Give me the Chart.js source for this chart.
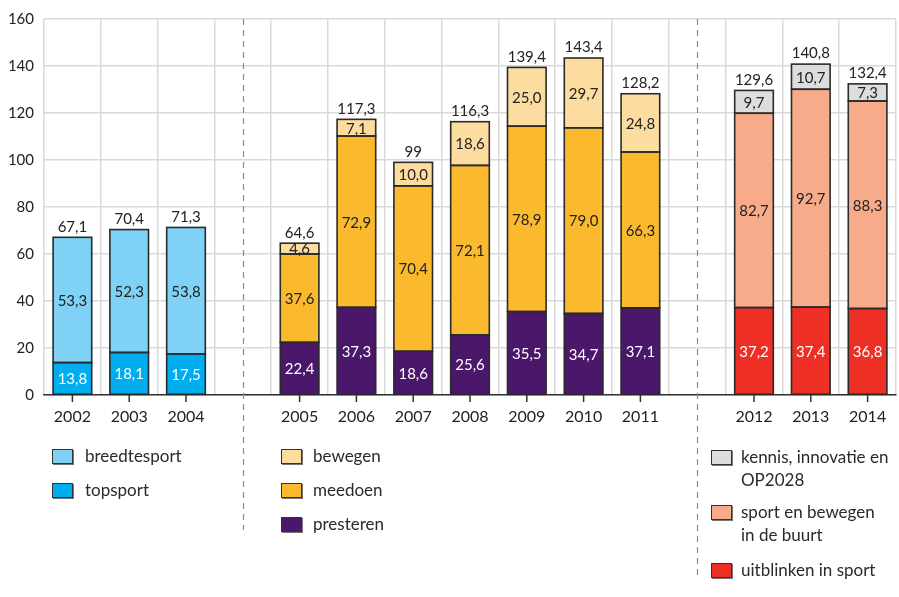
<!DOCTYPE html>
<html>
<head>
<meta charset="utf-8">
<script src="https://cdn.jsdelivr.net/npm/chart.js@4/dist/chart.umd.min.js"></script>
<style>
  html, body { margin: 0; padding: 0; background: #fff; }
  #wrap { position: relative; width: 899px; height: 597px; }
  canvas { position: absolute; left: 0; top: 0; }
  .lg { position: absolute; font-family: Lato, "Open Sans", sans-serif; font-size: 17px; color: #2a2a2a; line-height: 23px; white-space: nowrap; }
  .sw { position: absolute; width: 19px; height: 13px; border: 1px solid #333; box-sizing: content-box; box-shadow: 1px 1px 0 #777; }
</style>
</head>
<body>
<div id="wrap">
  <canvas id="c" width="899" height="597"></canvas>
</div>
<script>
// ---- data ----
const categories = ['2002','2003','2004','','2005','2006','2007','2008','2009','2010','2011','','2012','2013','2014'];
const topsport     = [13.8, 18.1, 17.5, null, null, null, null, null, null, null, null, null, null, null, null];
const breedtesport = [53.3, 52.3, 53.8, null, null, null, null, null, null, null, null, null, null, null, null];
const presteren    = [null, null, null, null, 22.4, 37.3, 18.6, 25.6, 35.5, 34.7, 37.1, null, null, null, null];
const meedoen      = [null, null, null, null, 37.6, 72.9, 70.4, 72.1, 78.9, 79.0, 66.3, null, null, null, null];
const bewegen      = [null, null, null, null, 4.6, 7.1, 10.0, 18.6, 25.0, 29.7, 24.8, null, null, null, null];
const uitblinken   = [null, null, null, null, null, null, null, null, null, null, null, null, 37.2, 37.4, 36.8];
const buurt        = [null, null, null, null, null, null, null, null, null, null, null, null, 82.7, 92.7, 88.3];
const kennis       = [null, null, null, null, null, null, null, null, null, null, null, null, 9.7, 10.7, 7.3];
const totalLabels  = ['67,1','70,4','71,3','','64,6','117,3','99','116,3','139,4','143,4','128,2','','129,6','140,8','132,4'];
const yTicks = [0, 20, 40, 60, 80, 100, 120, 140, 160];

const FONT = 'Lato, "Open Sans", sans-serif';
const C = {
  topsport: '#00aeef', breedtesport: '#7fd1f5',
  presteren: '#4a176b', meedoen: '#fbba2e', bewegen: '#fddc9f',
  uitblinken: '#ee2f25', buurt: '#f8ab8b', kennis: '#dcdddf'
};

function ds(label, data, color, light) {
  return { label, data, backgroundColor: color, borderWidth: 0, lightText: light, stack: 's' };
}

const labelPlugin = {
  id: 'labels',
  afterDatasetsDraw(chart) {
    const ctx = chart.ctx;
    ctx.save();
    ctx.strokeStyle = '#2a2a2a';
    ctx.lineWidth = 1.6;
    chart.data.datasets.forEach((d, di) => {
      chart.getDatasetMeta(di).data.forEach((el, i) => {
        const v = d.data[i];
        if (v === null || v === undefined) return;
        ctx.strokeRect(el.x - el.width / 2, el.y, el.width, el.base - el.y);
      });
    });
    ctx.font = '15px ' + FONT;
    ctx.textAlign = 'center';
    ctx.textBaseline = 'middle';
    const tops = {};
    chart.data.datasets.forEach((d, di) => {
      const meta = chart.getDatasetMeta(di);
      meta.data.forEach((el, i) => {
        const v = d.data[i];
        if (v === null || v === undefined) return;
        ctx.fillStyle = d.lightText ? '#fff' : '#222';
        ctx.fillText(v.toFixed(1).replace('.', ','), el.x, (el.y + el.base) / 2 + 1);
        if (!tops[i] || el.y < tops[i].y) tops[i] = el;
      });
    });
    ctx.fillStyle = '#222';
    ctx.textBaseline = 'bottom';
    Object.keys(tops).forEach(i => {
      const el = tops[i];
      ctx.fillText(totalLabels[i], el.x, el.y - 3);
    });
    ctx.restore();
  }
};

const decoPlugin = {
  id: 'deco',
  afterDraw(chart) {
    const ctx = chart.ctx;
    const xs = chart.scales.x;
    const area = chart.chartArea;
    ctx.save();
    ctx.strokeStyle = '#333';
    ctx.lineWidth = 1.5;
    categories.forEach((c, i) => {
      if (!c) return;
      const x = xs.getPixelForValue(i);
      ctx.beginPath();
      ctx.moveTo(x, area.bottom);
      ctx.lineTo(x, area.bottom + 7);
      ctx.stroke();
    });
    ctx.strokeStyle = '#8a8a8a';
    ctx.lineWidth = 1.2;
    ctx.setLineDash([6, 5]);
    [[3, 530], [11, 578]].forEach(([idx, yEnd]) => {
      const x = Math.round(xs.getPixelForValue(idx)) + 0.5;
      ctx.beginPath();
      ctx.moveTo(x, area.top);
      ctx.lineTo(x, yEnd);
      ctx.stroke();
    });
    ctx.restore();
  }
};

new Chart(document.getElementById('c'), {
  type: 'bar',
  data: {
    labels: categories,
    datasets: [
      ds('topsport', topsport, C.topsport, true),
      ds('breedtesport', breedtesport, C.breedtesport, false),
      ds('presteren', presteren, C.presteren, true),
      ds('meedoen', meedoen, C.meedoen, false),
      ds('bewegen', bewegen, C.bewegen, false),
      ds('uitblinken in sport', uitblinken, C.uitblinken, true),
      ds('sport en bewegen in de buurt', buurt, C.buurt, false),
      ds('kennis, innovatie en OP2028', kennis, C.kennis, false)
    ]
  },
  options: {
    responsive: false,
    animation: false,
    devicePixelRatio: 1,
    categoryPercentage: 1,
    barPercentage: 0.68,
    layout: { padding: { top: 16, right: 3, left: 0, bottom: 0 } },
    plugins: { legend: { display: false }, tooltip: { enabled: false } },
    scales: {
      x: {
        stacked: true,
        grid: { offset: true, color: '#d9d9d9', lineWidth: 1.5, drawTicks: false },
        border: { display: true, color: '#333', width: 1.5 },
        ticks: { color: '#222', font: { family: FONT, size: 16 }, padding: 12, maxRotation: 0, autoSkip: false },
        afterFit(s) { s.height = 597 - 395; }
      },
      y: {
        stacked: true,
        min: 0, max: 160,
        afterBuildTicks(s) { s.ticks = yTicks.map(v => ({ value: v })); },
        grid: { color: '#d9d9d9', lineWidth: 1.5, drawTicks: false },
        border: { display: false },
        ticks: { color: '#222', font: { family: FONT, size: 15 }, padding: 10 },
        afterFit(s) { s.width = 44; }
      }
    }
  },
  plugins: [labelPlugin, decoPlugin]
});

// ---- HTML legend ----
const legendItems = [
  { x: 52, tx: 85, y: 456, color: C.breedtesport, text: 'breedtesport' },
  { x: 52, tx: 85, y: 490, color: C.topsport, text: 'topsport' },
  { x: 281, tx: 313, y: 456, color: C.bewegen, text: 'bewegen' },
  { x: 281, tx: 313, y: 490, color: C.meedoen, text: 'meedoen' },
  { x: 281, tx: 313, y: 524, color: C.presteren, text: 'presteren' },
  { x: 711, tx: 741, y: 457, color: C.kennis, text: 'kennis, innovatie en<br>OP2028' },
  { x: 711, tx: 741, y: 512, color: C.buurt, text: 'sport en bewegen<br>in de buurt' },
  { x: 711, tx: 741, y: 570, color: C.uitblinken, text: 'uitblinken in sport' }
];
const wrap = document.getElementById('wrap');
legendItems.forEach(it => {
  const sw = document.createElement('div');
  sw.className = 'sw';
  sw.style.left = it.x + 'px';
  sw.style.top = (it.y - 7) + 'px';
  sw.style.background = it.color;
  wrap.appendChild(sw);
  const t = document.createElement('div');
  t.className = 'lg';
  t.style.left = it.tx + 'px';
  t.style.top = (it.y - 12) + 'px';
  t.innerHTML = it.text;
  wrap.appendChild(t);
});
</script>
</body>
</html>
